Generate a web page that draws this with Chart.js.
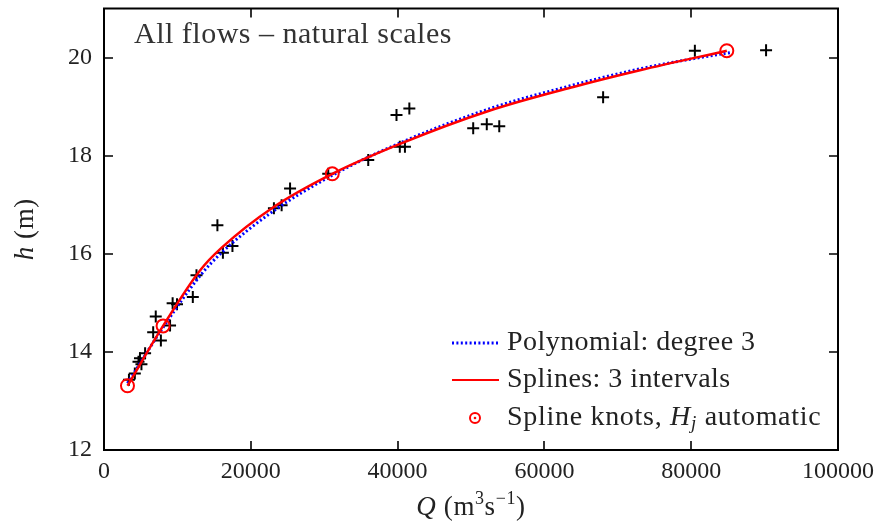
<!DOCTYPE html>
<html><head><meta charset="utf-8">
<script src="https://cdn.jsdelivr.net/npm/chart.js@4/dist/chart.umd.min.js"></script>
<style>html,body{margin:0;padding:0;background:#fff}#wrap{width:888px;height:523px}</style>
</head><body><div id="wrap"><canvas id="c" width="888" height="523"></canvas></div>
<script>
// Observed gaugings (discharge Q, stage h)
const obsQ = [3400, 4200, 4700, 5100, 4900, 5600, 6700, 7050, 7750, 9000, 9350, 9950, 12100, 12600, 15450, 16200, 17500, 23150, 24200, 25350, 30550, 36000, 39850, 41600, 40300, 41000, 50300, 52150, 53850, 68000, 80500, 90200];
const obsH = [13.43, 13.56, 13.80, 13.75, 13.87, 13.97, 14.40, 14.72, 14.23, 14.54, 14.99, 14.97, 15.12, 15.56, 16.58, 16.02, 16.16, 16.93, 16.99, 17.33, 17.63, 17.91, 18.83, 18.96, 18.18, 18.18, 18.56, 18.64, 18.60, 19.19, 20.14, 20.15];
// Polynomial degree 3 curve
const polyQ = [3200, 8050, 13080, 16000, 23070, 31100, 40330, 52590, 63940, 73020, 80000, 85290];
const polyH = [13.36, 14.50, 15.55, 16.02, 16.87, 17.60, 18.26, 18.96, 19.44, 19.77, 19.97, 20.10];
// Spline curve, 3 intervals
const splineQ = [3200, 8050, 13080, 16000, 23070, 31100, 40330, 52590, 63940, 73020, 84850];
const splineH = [13.31, 14.53, 15.66, 16.12, 16.95, 17.63, 18.24, 18.92, 19.40, 19.74, 20.14];
// Spline knots
const knotQ = [3200, 8050, 31100, 84850];
const knotH = [13.31, 14.53, 17.63, 20.14];
// Axis ticks
const xTicks = [0, 20000, 40000, 60000, 80000, 100000];
const yTicks = [12, 14, 16, 18, 20];
const titleText = 'All flows \u2013 natural scales';
const legendPoly = 'Polynomial: degree 3';
const legendSpline = 'Splines: 3 intervals';
const legendKnots = ['Spline knots, ', 'H', 'j', ' automatic'];

const SERIF = "'Liberation Serif', 'Times New Roman', serif";
const pts = (xs, ys) => xs.map((x, i) => ({x: x, y: ys[i]}));

function richWidth(ctx, parts) {
  let w = 0;
  for (const p of parts) { ctx.font = p.font; w += ctx.measureText(p.t).width; }
  return w;
}
function drawRich(ctx, parts, x, y, align) {
  let w = richWidth(ctx, parts);
  let cx = align === 'center' ? x - w / 2 : x;
  for (const p of parts) {
    ctx.font = p.font;
    ctx.fillText(p.t, cx, y + (p.dy || 0));
    cx += ctx.measureText(p.t).width;
  }
}

const decorPlugin = {
  id: 'decor',
  afterDraw(chart) {
    const ctx = chart.ctx, a = chart.chartArea;
    const xs = chart.scales.x, ys = chart.scales.y;
    ctx.save();
    // frame
    ctx.strokeStyle = '#000'; ctx.lineWidth = 2;
    ctx.strokeRect(a.left, a.top, a.right - a.left, a.bottom - a.top);
    // inward ticks on all sides
    ctx.lineWidth = 1.6;
    const TL = 9;
    ctx.beginPath();
    for (const v of xTicks) {
      const px = Math.round(xs.getPixelForValue(v));
      ctx.moveTo(px, a.bottom); ctx.lineTo(px, a.bottom - TL);
      ctx.moveTo(px, a.top); ctx.lineTo(px, a.top + TL);
    }
    for (const v of yTicks) {
      const py = Math.round(ys.getPixelForValue(v));
      ctx.moveTo(a.left, py); ctx.lineTo(a.left + TL, py);
      ctx.moveTo(a.right, py); ctx.lineTo(a.right - TL, py);
    }
    ctx.stroke();

    // title inside plot
    ctx.fillStyle = '#333';
    ctx.textBaseline = 'alphabetic';
    ctx.textAlign = 'left';
    ctx.letterSpacing = '0.5px';
    ctx.font = '30px ' + SERIF;
    ctx.fillText(titleText, 134, 43);

    // axis titles
    ctx.fillStyle = '#222';
    ctx.letterSpacing = '0.6px';
    const f = '27px ' + SERIF, fi = 'italic 27px ' + SERIF, fs = '18px ' + SERIF;
    drawRich(ctx, [
      {t: 'Q', font: fi}, {t: ' (m', font: f}, {t: '3', font: fs, dy: -11},
      {t: 's', font: f}, {t: '\u22121', font: fs, dy: -11}, {t: ')', font: f}
    ], (a.left + a.right) / 2, 515, 'center');
    ctx.save();
    ctx.translate(33, (a.top + a.bottom) / 2);
    ctx.rotate(-Math.PI / 2);
    drawRich(ctx, [{t: 'h', font: fi}, {t: ' (m)', font: f}], 0, 0, 'center');
    ctx.restore();

    // legend
    ctx.letterSpacing = '0px';
    const lx0 = 452, lx1 = 499, tx = 507;
    const rows = [343, 380, 418];
    ctx.lineCap = 'butt';
    ctx.strokeStyle = '#0000ff'; ctx.lineWidth = 3; ctx.setLineDash([2, 2.4]);
    ctx.beginPath(); ctx.moveTo(lx0, rows[0]); ctx.lineTo(lx1, rows[0]); ctx.stroke();
    ctx.setLineDash([]);
    ctx.strokeStyle = '#ff0000'; ctx.lineWidth = 2;
    ctx.beginPath(); ctx.moveTo(lx0, rows[1]); ctx.lineTo(lx1, rows[1]); ctx.stroke();
    ctx.beginPath(); ctx.arc(475, rows[2], 5, 0, Math.PI * 2); ctx.stroke();
    ctx.fillStyle = '#ff0000';
    ctx.beginPath(); ctx.arc(475, rows[2], 1.3, 0, Math.PI * 2); ctx.fill();

    ctx.fillStyle = '#222';
    ctx.textBaseline = 'middle';
    ctx.letterSpacing = '0.45px';
    const lf = '28px ' + SERIF, lfi = 'italic 28px ' + SERIF, lfs = 'italic 19px ' + SERIF;
    ctx.font = lf;
    ctx.fillText(legendPoly, tx, rows[0]);
    ctx.fillText(legendSpline, tx, rows[1]);
    ctx.letterSpacing = '0.7px';
    drawRich(ctx, [
      {t: legendKnots[0], font: lf}, {t: legendKnots[1], font: lfi},
      {t: legendKnots[2], font: lfs, dy: 6}, {t: legendKnots[3], font: lf}
    ], tx, rows[2], 'left');
    ctx.restore();
  }
};

new Chart(document.getElementById('c'), {
  type: 'scatter',
  data: {
    datasets: [
      {label: 'Observed', data: pts(obsQ, obsH), pointStyle: 'cross', pointRadius: 6,
       pointHoverRadius: 6, borderColor: '#000', backgroundColor: '#000', borderWidth: 2, showLine: false, order: 4},
      {type: 'line', label: legendPoly, data: pts(polyQ, polyH), borderColor: '#0000ff', borderWidth: 3,
       borderDash: [2, 2.4], pointRadius: 0, fill: false, cubicInterpolationMode: 'monotone', order: 3},
      {type: 'line', label: legendSpline, data: pts(splineQ, splineH), borderColor: '#ff0000', borderWidth: 2.5,
       pointRadius: 0, fill: false, cubicInterpolationMode: 'monotone', order: 2},
      {label: 'Spline knots', data: pts(knotQ, knotH), pointStyle: 'circle', pointRadius: 6.5,
       pointHoverRadius: 6.5, borderColor: '#ff0000', backgroundColor: 'rgba(0,0,0,0)', borderWidth: 2, showLine: false, order: 1}
    ]
  },
  options: {
    responsive: false, animation: false, devicePixelRatio: 1,
    layout: {padding: {top: 8, right: 50, left: 0, bottom: 0}},
    plugins: {legend: {display: false}, tooltip: {enabled: false}},
    scales: {
      x: {
        type: 'linear', min: 0, max: 100000,
        grid: {display: false, drawTicks: false}, border: {display: false},
        afterBuildTicks: s => { s.ticks = xTicks.map(v => ({value: v})); },
        afterFit: s => { s.height = 73; s.paddingLeft = 0; s.paddingRight = 0; },
        ticks: {font: {family: SERIF, size: 24}, color: '#222', padding: 7, maxRotation: 0, autoSkip: false,
                callback: v => String(v)}
      },
      y: {
        type: 'linear', min: 12, max: 21,
        grid: {display: false, drawTicks: false}, border: {display: false},
        afterBuildTicks: s => { s.ticks = yTicks.map(v => ({value: v})); },
        afterFit: s => { s.width = 104; s.paddingTop = 0; s.paddingBottom = 0; },
        ticks: {font: {family: SERIF, size: 24}, color: '#222', padding: 12, autoSkip: false,
                callback: v => String(v)}
      }
    }
  },
  plugins: [decorPlugin]
});
</script>
</body></html>
